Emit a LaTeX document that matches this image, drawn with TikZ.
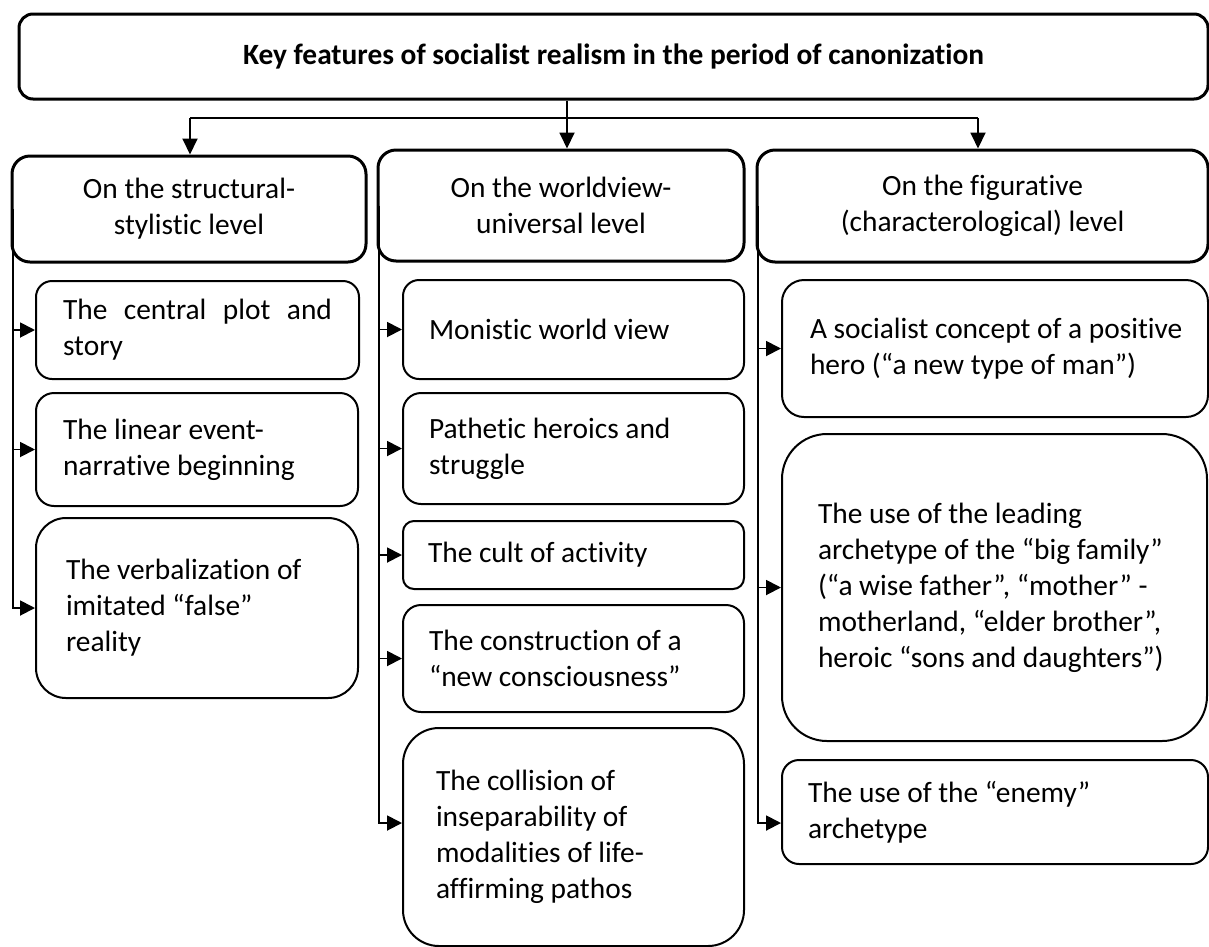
\documentclass[tikz,border=0pt]{standalone}
\usepackage{fontspec}
\setmainfont{Carlito}[Ligatures={NoCommon}]
\usetikzlibrary{arrows.meta}
\begin{document}
\begin{tikzpicture}[x=1pt,y=-1pt,
  every node/.style={font=\fontsize{29.4}{36}\selectfont},
  topbox/.style={draw, line width=3pt, rounded corners=14pt, inner sep=0pt, align=center},
  lvlbox/.style={draw, line width=3pt, rounded corners=18pt, inner sep=0pt, align=center},
  sub/.style n args={4}{draw, line width=2pt, align=flush left, inner ysep=0pt,
     text width=#1, inner xsep=#2, minimum height=#3, rounded corners=#4},
  conn/.style={line width=1.9pt},
  arr/.style={line width=1.9pt, -{Triangle[length=15pt,width=15pt]}},
  darr/.style={line width=1.9pt, -{Triangle[length=16pt,width=15pt]}},
]
\useasboundingbox (0,0) rectangle (1209,946);

% title
\node[topbox, minimum width=1189pt, minimum height=85pt,
      font=\fontsize{29.4}{36}\selectfont\bfseries] (top) at (613.5,56.5)
  {Key features of socialist realism in the period of canonization};

% levels
\node[lvlbox, minimum width=354pt, minimum height=106pt] (lvl1) at (189,209)
  {\raisebox{-3pt}{On the structural-}\\\raisebox{-3pt}{stylistic level}};
\node[lvlbox, minimum width=366pt, minimum height=111pt] (lvl2) at (561,205.5)
  {On the worldview-\\universal level};
\node[lvlbox, minimum width=451pt, minimum height=112pt] (lvl3) at (982.5,206)
  {\raisebox{-3pt}{On the figurative}\\\raisebox{-3pt}{(characterological) level}};

% left column
\node[sub={269pt}{27pt}{98pt}{16pt}] (L1) at (197.5,330)
  {\makebox[269pt][s]{The central plot and}\\story};
\node[sub={268pt}{27pt}{113pt}{18pt}] (L2) at (197,449.5)
  {The linear event-\\narrative beginning};
\node[sub={262pt}{30pt}{180pt}{30pt}] (L3) at (197,608)
  {The verbalization of\\imitated “false”\\reality};

% middle column
\node[sub={289pt}{26pt}{99pt}{16pt}] (M1) at (573.5,329.5)
  {Monistic world view};
\node[sub={289pt}{26pt}{111pt}{18pt}] (M2) at (573.5,448.5)
  {Pathetic heroics and\\struggle};
\node[sub={291pt}{25pt}{68pt}{11pt}] (M3) at (573.5,555)
  {The cult of activity};
\node[sub={289pt}{26pt}{107pt}{18pt}] (M4) at (573.5,658.5)
  {The construction of a\\“new consciousness”};
\node[sub={275pt}{33pt}{218pt}{36pt}] (M5) at (573.5,837)
  {The collision of\\inseparability of\\modalities of life-\\affirming pathos};

% right column
\node[sub={370pt}{28pt}{137pt}{22pt}] (R1) at (995,348.5)
  {\mbox{A socialist concept of a positive}\\hero (“a new type of man”)};
\node[sub={353pt}{36pt}{307pt}{45pt}] (R2) at (994.5,587.5)
  {The use of the leading\\\mbox{archetype of the “big family”}\\(“a wise father”, “mother” -\\\mbox{motherland, “elder brother”,}\\\mbox{heroic “sons and daughters”)}};
\node[sub={374pt}{26pt}{104pt}{17pt}] (R3) at (995,812)
  {The use of the “enemy”\\archetype};

% top connectors
\coordinate (cm) at (567,0);
\coordinate (bl) at (190,118);
\coordinate (br) at (978,118);
\draw[conn] (bl) -- (br);
\draw[darr] (top.south -| cm) -- (lvl2.north -| cm);
\draw[darr] (bl) -- (bl |- lvl1.north);
\draw[darr] (br) -- (br |- lvl3.north);

% branch lines
\coordinate (lx) at (12.7,0);
\coordinate (mx) at (379,0);
\coordinate (rx) at (758,0);
\coordinate (m5a) at ([yshift=14pt]M5.west);
\coordinate (r3a) at ([yshift=-11pt]R3.west);

\draw[arr] (lx |- lvl1.center) -- (lx |- L3.west) -- (L3.west);
\draw[arr] (lx |- L1.west) -- (L1.west);
\draw[arr] (lx |- L2.west) -- (L2.west);

\draw[arr] (mx |- lvl2.center) -- (mx |- m5a) -- (m5a);
\draw[arr] (mx |- M1.west) -- (M1.west);
\draw[arr] (mx |- M2.west) -- (M2.west);
\draw[arr] (mx |- M3.west) -- (M3.west);
\draw[arr] (mx |- M4.west) -- (M4.west);

\draw[arr] (rx |- lvl3.center) -- (rx |- r3a) -- (r3a);
\draw[arr] (rx |- R1.west) -- (R1.west);
\draw[arr] (rx |- R2.west) -- (R2.west);
\end{tikzpicture}
\end{document}
